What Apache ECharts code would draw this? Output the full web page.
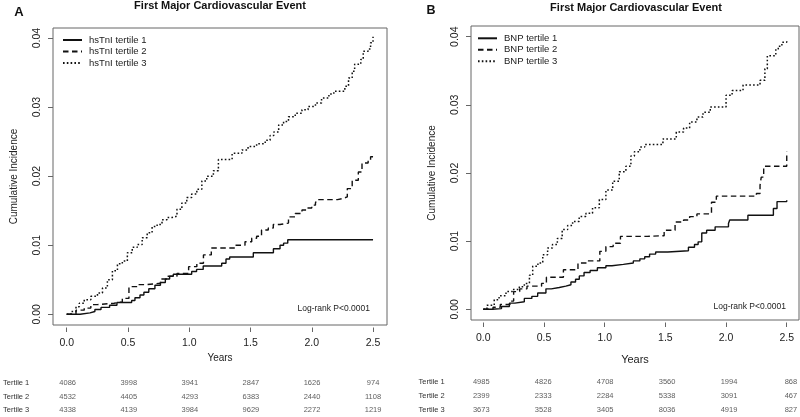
<!DOCTYPE html>
<html>
<head>
<meta charset="utf-8">
<script src="https://cdn.jsdelivr.net/npm/echarts@6/dist/echarts.min.js"></script>
<style>html,body{margin:0;padding:0;background:#fff}#c{width:800px;height:417px}</style>
</head>
<body>
<div id="c"></div>
<script>
// ---------- DATA ----------
var xTicks = [0, 0.5, 1.0, 1.5, 2.0, 2.5];
var yTicks = [0, 0.01, 0.02, 0.03, 0.04];
var rowNames = ['Tertile 1', 'Tertile 2', 'Tertile 3'];

// Panel A: hsTnI
var tnI1_t = [0, 0.11, 0.19, 0.23, 0.28, 0.35, 0.41, 0.53, 0.557, 0.598, 0.63, 0.67, 0.72, 0.765, 0.805, 0.84, 0.87, 1.02, 1.06, 1.114, 1.265, 1.30, 1.33, 1.523, 1.687, 1.741, 1.77, 1.804, 2.5];
var tnI1_y = [0, 0.0002, 0.0004, 0.0007, 0.0010, 0.0013, 0.0017, 0.0020, 0.0024, 0.0028, 0.0032, 0.0037, 0.0042, 0.0046, 0.0051, 0.0055, 0.0058, 0.0062, 0.0065, 0.0070, 0.0074, 0.0080, 0.0083, 0.0089, 0.0095, 0.0100, 0.0103, 0.0108, 0.0108];
var tnI2_t = [0, 0.076, 0.143, 0.197, 0.251, 0.386, 0.454, 0.508, 0.576, 0.657, 0.765, 0.819, 0.90, 0.995, 1.062, 1.116, 1.18, 1.374, 1.455, 1.51, 1.55, 1.59, 1.645, 1.686, 1.74, 1.81, 1.865, 1.92, 1.96, 2.0, 2.03, 2.04, 2.21, 2.26, 2.29, 2.33, 2.38, 2.41, 2.46, 2.48, 2.5];
var tnI2_y = [0, 0.0006, 0.0009, 0.0014, 0.0016, 0.0018, 0.0023, 0.0040, 0.0043, 0.0045, 0.0051, 0.0055, 0.0059, 0.0069, 0.0074, 0.0086, 0.0096, 0.0100, 0.0105, 0.0110, 0.0113, 0.0122, 0.0125, 0.0130, 0.0132, 0.0141, 0.0146, 0.0151, 0.0154, 0.0158, 0.0161, 0.0166, 0.0168, 0.0170, 0.0182, 0.0194, 0.0206, 0.0219, 0.0223, 0.0228, 0.0228];
var tnI3_t = [0, 0.035, 0.076, 0.103, 0.143, 0.197, 0.251, 0.292, 0.332, 0.373, 0.414, 0.454, 0.495, 0.535, 0.576, 0.616, 0.657, 0.697, 0.738, 0.778, 0.819, 0.859, 0.90, 0.94, 0.98, 1.02, 1.062, 1.103, 1.143, 1.197, 1.238, 1.35, 1.43, 1.48, 1.55, 1.62, 1.66, 1.69, 1.73, 1.77, 1.81, 1.865, 1.92, 1.97, 2.03, 2.08, 2.14, 2.18, 2.27, 2.30, 2.33, 2.35, 2.40, 2.42, 2.46, 2.48, 2.50];
var tnI3_y = [0, 0.0004, 0.0011, 0.0016, 0.0021, 0.0026, 0.0031, 0.0038, 0.0050, 0.0063, 0.0073, 0.0077, 0.0089, 0.0097, 0.0101, 0.0111, 0.0118, 0.0127, 0.0130, 0.0137, 0.0140, 0.0142, 0.0152, 0.0161, 0.0169, 0.0174, 0.0181, 0.0193, 0.0200, 0.0208, 0.0224, 0.0233, 0.0238, 0.0243, 0.0247, 0.0252, 0.0259, 0.0264, 0.0274, 0.0279, 0.0286, 0.0291, 0.0296, 0.0301, 0.0306, 0.0313, 0.0319, 0.0323, 0.0330, 0.0342, 0.0352, 0.0362, 0.0369, 0.0381, 0.0384, 0.0393, 0.0402];

// Panel B: BNP
var bnp1_t = [0, 0.07, 0.15, 0.215, 0.26, 0.338, 0.40, 0.448, 0.516, 0.56, 0.626, 0.68, 0.722, 0.76, 0.791, 0.83, 0.88, 0.94, 1.01, 1.06, 1.154, 1.236, 1.29, 1.33, 1.37, 1.42, 1.52, 1.69, 1.74, 1.77, 1.80, 1.84, 1.91, 2.02, 2.03, 2.18, 2.39, 2.42, 2.5];
var bnp1_y = [0, 0.0001, 0.0004, 0.0009, 0.0011, 0.0016, 0.0019, 0.0024, 0.0030, 0.0032, 0.0034, 0.0036, 0.0040, 0.0044, 0.0049, 0.0054, 0.0057, 0.0061, 0.0064, 0.0066, 0.0068, 0.0071, 0.0074, 0.0077, 0.0081, 0.0084, 0.0086, 0.0091, 0.0095, 0.0099, 0.0112, 0.0116, 0.0121, 0.0126, 0.0131, 0.0138, 0.0148, 0.0158, 0.0160];
var bnp2_t = [0, 0.08, 0.14, 0.22, 0.25, 0.30, 0.36, 0.48, 0.52, 0.66, 0.78, 0.85, 0.96, 1.01, 1.07, 1.13, 1.35, 1.49, 1.58, 1.65, 1.70, 1.76, 1.88, 1.92, 2.25, 2.28, 2.29, 2.31, 2.5];
var bnp2_y = [0, 0.0003, 0.0007, 0.0012, 0.0026, 0.0030, 0.0034, 0.0038, 0.0047, 0.0058, 0.0068, 0.0071, 0.0085, 0.0092, 0.0097, 0.0107, 0.0108, 0.0116, 0.0128, 0.0131, 0.0136, 0.0140, 0.0157, 0.0166, 0.0170, 0.0182, 0.0194, 0.0210, 0.0231];
var bnp3_t = [0, 0.03, 0.09, 0.13, 0.187, 0.24, 0.297, 0.338, 0.38, 0.407, 0.45, 0.49, 0.53, 0.57, 0.61, 0.65, 0.695, 0.736, 0.79, 0.846, 0.90, 0.956, 1.01, 1.066, 1.12, 1.175, 1.216, 1.245, 1.29, 1.33, 1.48, 1.59, 1.65, 1.70, 1.76, 1.81, 1.87, 2.00, 2.05, 2.14, 2.28, 2.32, 2.34, 2.41, 2.43, 2.46, 2.5];
var bnp3_y = [0, 0.0006, 0.0014, 0.0020, 0.0026, 0.0029, 0.0033, 0.0038, 0.0050, 0.0063, 0.0068, 0.0080, 0.0090, 0.0095, 0.0104, 0.0117, 0.0123, 0.0129, 0.0136, 0.0141, 0.0149, 0.0161, 0.0175, 0.0188, 0.0202, 0.0210, 0.0225, 0.0231, 0.0238, 0.0242, 0.0250, 0.0260, 0.0266, 0.0275, 0.0282, 0.0289, 0.0297, 0.0314, 0.0321, 0.0329, 0.0336, 0.0353, 0.0372, 0.0382, 0.0386, 0.0392, 0.0394];

// Numbers at risk
var tnIRisk1 = [4086, 3998, 3941, 2847, 1626, 974];
var tnIRisk2 = [4532, 4405, 4293, 6383, 2440, 1108];
var tnIRisk3 = [4338, 4139, 3984, 9629, 2272, 1219];
var bnpRisk1 = [4985, 4826, 4708, 3560, 1994, 868];
var bnpRisk2 = [2399, 2333, 2284, 5338, 3091, 467];
var bnpRisk3 = [3673, 3528, 3405, 8036, 4919, 827];

// ---------- BUILD ----------
var FONT = 'Liberation Sans, Arial, sans-serif';
var INK = '#111';
function pairs(t, y) { return t.map(function (v, i) { return [v, y[i]]; }); }
function riskData(rows) {
  var d = [];
  rows.forEach(function (row, r) {
    row.forEach(function (v, c) { d.push([xTicks[c], rowNames[r], v]); });
  });
  return d;
}
var styles = [
  { type: 'solid', width: 1.4 },
  { type: [5.5, 3.5], width: 1.4 },
  { type: [1.6, 2.2], width: 1.5 }
];
function kmSeries(name, data, k, idx) {
  return {
    type: 'line', name: name, data: data, step: 'end',
    xAxisIndex: idx, yAxisIndex: idx, showSymbol: false, symbol: 'none', symbolSize: 0,
    lineStyle: { color: INK, width: styles[k].width, type: styles[k].type },
    itemStyle: { color: INK }, silent: true
  };
}
function plotX(idx, min, max) {
  return {
    gridIndex: idx, type: 'value', min: min, max: max,
    offset: 2.5,
    axisLine: { show: false, onZero: false },
    axisTick: { show: true, length: 4.5, customValues: xTicks, lineStyle: { color: '#666' } },
    axisLabel: { customValues: xTicks, margin: 10, fontSize: 10.5, color: '#222', fontFamily: FONT,
      formatter: function (v) { return v.toFixed(1); } },
    splitLine: { show: false },
    name: 'Years', nameLocation: 'middle',
    nameGap: idx === 0 ? 25.5 : 32,
    nameTextStyle: { fontSize: idx === 0 ? 10 : 11, color: '#222', fontFamily: FONT }
  };
}
function plotY(idx, min, max) {
  return {
    gridIndex: idx, type: 'value', min: min, max: max,
    axisLine: { show: false, onZero: false },
    axisTick: { show: true, length: 5, customValues: yTicks, lineStyle: { color: '#666' } },
    axisLabel: { customValues: yTicks, rotate: 90, margin: 10, fontSize: 10.5, color: '#222', fontFamily: FONT,
      formatter: function (v) { return v.toFixed(2); } },
    splitLine: { show: false },
    name: 'Cumulative Incidence', nameLocation: 'middle', nameGap: 34,
    nameTextStyle: { fontSize: 10, color: '#222', fontFamily: FONT }
  };
}
function tableX(idx, min, max) {
  return { gridIndex: idx, type: 'value', min: min, max: max, show: false };
}
function tableY(idx, margin) {
  return {
    gridIndex: idx, type: 'category', data: rowNames, inverse: true,
    axisLine: { show: false, onZero: false }, axisTick: { show: false }, splitLine: { show: false },
    axisLabel: { align: 'left', margin: margin, fontSize: 7.5, color: '#333', fontFamily: FONT }
  };
}
function tableSeries(rows, idx) {
  return {
    type: 'scatter', data: riskData(rows), xAxisIndex: idx, yAxisIndex: idx,
    symbolSize: 1, itemStyle: { color: 'rgba(0,0,0,0)' }, silent: true,
    encode: { x: 0, y: 1 },
    label: { show: true, position: 'inside', fontSize: 7.5, color: '#333', fontFamily: FONT,
      formatter: function (p) { return String(p.data[2]); } }
  };
}
function legendFor(names, left, top) {
  return {
    data: names, orient: 'vertical', left: left, top: top,
    itemWidth: 19, itemHeight: 8, itemGap: 1.5, padding: 0,
    itemStyle: { opacity: 0, borderWidth: 0 },
    textStyle: { fontSize: 9.5, color: '#222', fontFamily: FONT, padding: [0, 0, 0, 2] }
  };
}

var option = {
  animation: false,
  backgroundColor: '#fff',
  textStyle: { fontFamily: FONT },
  grid: [
    { left: 53, top: 28, width: 334, height: 297, show: true, borderColor: '#666', borderWidth: 1, backgroundColor: 'transparent' },
    { left: 471, top: 26, width: 328, height: 294, show: true, borderColor: '#666', borderWidth: 1, backgroundColor: 'transparent' },
    { left: 53, top: 376.5, width: 334, height: 45 },
    { left: 471, top: 374.7, width: 328, height: 42 }
  ],
  xAxis: [
    plotX(0, -0.1118, 2.614),
    plotX(1, -0.1013, 2.601),
    tableX(2, -0.1118, 2.614),
    tableX(3, -0.083, 2.565)
  ],
  yAxis: [
    plotY(0, -0.00155, 0.04145),
    plotY(1, -0.00157, 0.04157),
    tableY(2, 51),
    tableY(3, 52.5)
  ],
  legend: [
    legendFor(['hsTnI tertile 1', 'hsTnI tertile 2', 'hsTnI tertile 3'], 62, 35),
    legendFor(['BNP tertile 1', 'BNP tertile 2', 'BNP tertile 3'], 477, 33.3)
  ],
  graphic: [
    { type: 'text', x: 220, y: 5.5, style: { text: 'First Major Cardiovascular Event', font: 'bold 11px ' + FONT, fill: INK, textAlign: 'center', textVerticalAlign: 'middle' } },
    { type: 'text', x: 636, y: 8.3, style: { text: 'First Major Cardiovascular Event', font: 'bold 11px ' + FONT, fill: INK, textAlign: 'center', textVerticalAlign: 'middle' } },
    { type: 'text', x: 19, y: 12, style: { text: 'A', font: 'bold 13px ' + FONT, fill: INK, textAlign: 'center', textVerticalAlign: 'middle' } },
    { type: 'text', x: 431, y: 11, style: { text: 'B', font: 'bold 12.5px ' + FONT, fill: INK, textAlign: 'center', textVerticalAlign: 'middle' } },
    { type: 'text', x: 370, y: 308.3, style: { text: 'Log-rank P<0.0001', font: '8.5px ' + FONT, fill: '#222', textAlign: 'right', textVerticalAlign: 'middle' } },
    { type: 'text', x: 786, y: 306.7, style: { text: 'Log-rank P<0.0001', font: '8.5px ' + FONT, fill: '#222', textAlign: 'right', textVerticalAlign: 'middle' } }
  ],
  series: [
    kmSeries('hsTnI tertile 1', pairs(tnI1_t, tnI1_y), 0, 0),
    kmSeries('hsTnI tertile 2', pairs(tnI2_t, tnI2_y), 1, 0),
    kmSeries('hsTnI tertile 3', pairs(tnI3_t, tnI3_y), 2, 0),
    kmSeries('BNP tertile 1', pairs(bnp1_t, bnp1_y), 0, 1),
    kmSeries('BNP tertile 2', pairs(bnp2_t, bnp2_y), 1, 1),
    kmSeries('BNP tertile 3', pairs(bnp3_t, bnp3_y), 2, 1),
    tableSeries([tnIRisk1, tnIRisk2, tnIRisk3], 2),
    tableSeries([bnpRisk1, bnpRisk2, bnpRisk3], 3)
  ]
};
var chart = echarts.init(document.getElementById('c'), null, { renderer: 'canvas' });
chart.setOption(option);
</script>
</body>
</html>
